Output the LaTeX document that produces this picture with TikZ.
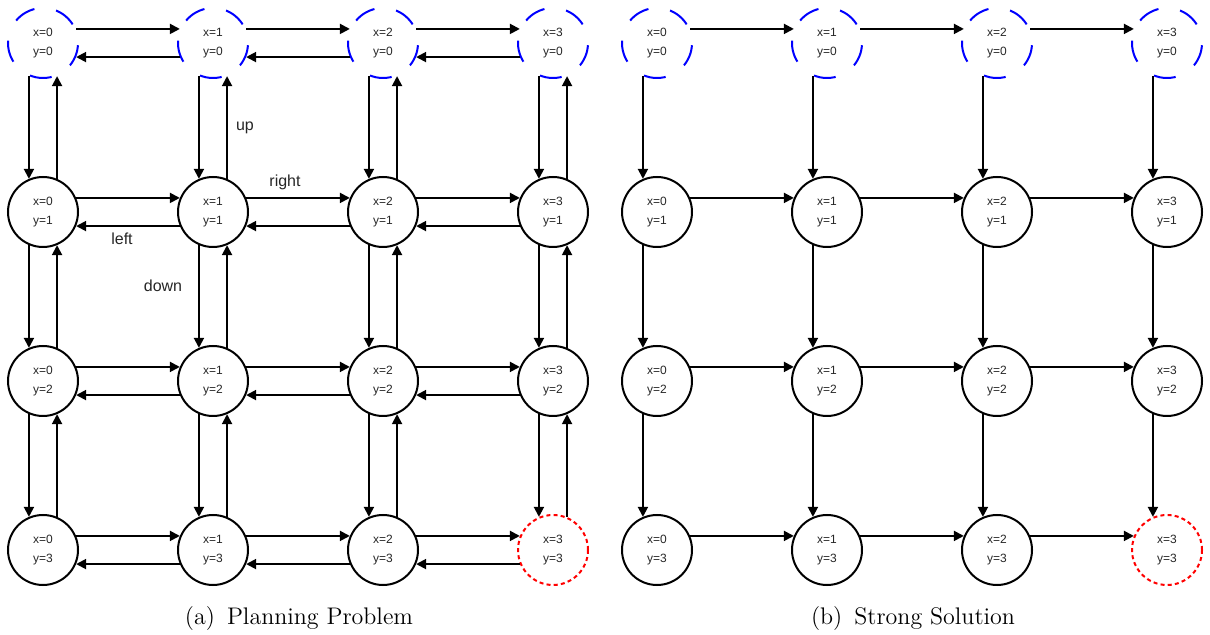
\documentclass[tikz,border=0pt]{standalone}
\usepackage{fontspec}
\newfontfamily\labelfont{Liberation Sans}
\usetikzlibrary{arrows.meta}

\tikzset{
  state/.style={circle, draw=black, line width=1pt, minimum size=35pt, inner sep=0pt,
    align=center, text=black!85, font=\labelfont\fontsize{6}{9.5}\selectfont},
  initstate/.style={state, draw=blue, dash pattern=on 11pt off 11pt, dash phase=12.2pt},
  goalstate/.style={state, draw=red, dash pattern=on 2pt off 1.6pt},
  move/.style={-{Triangle[length=5pt,width=5pt]}, line width=1pt, draw=black},
  actlabel/.style={font=\labelfont\fontsize{8}{9}\selectfont, text=black!85},
  caption/.style={font=\fontsize{12}{14}\selectfont}
}

\begin{document}
\begin{tikzpicture}[x=0.5pt, y=-0.5pt]
  \path[use as bounding box] (0,0) rectangle (1210,635);

  % grid of states for both panels: column i, row j
  \foreach \side/\xo in {L/43, R/657} {
    \foreach \i in {0,...,3} {
      \foreach \j in {0,...,3} {
        \pgfmathsetmacro{\px}{\xo+170*\i}
        \pgfmathsetmacro{\py}{43+169*\j}
        \ifnum\j=0
          \node[initstate] (\side-\i-\j) at (\px,\py) {x=\i\\y=\j};
        \else
          \ifnum\i=3 \ifnum\j=3
            \node[goalstate] (\side-\i-\j) at (\px,\py) {x=\i\\y=\j};
          \else
            \node[state] (\side-\i-\j) at (\px,\py) {x=\i\\y=\j};
          \fi
          \else
            \node[state] (\side-\i-\j) at (\px,\py) {x=\i\\y=\j};
          \fi
        \fi
      }
    }
  }

  % planning problem: moves in all four directions
  \foreach \i [evaluate=\i as \n using int(\i+1)] in {0,1,2} {
    \foreach \j in {0,...,3} {
      \draw[move] (L-\i-\j.23) -- (L-\n-\j.157);
      \draw[move] (L-\n-\j.-157) -- (L-\i-\j.-23);
      \draw[move] (L-\j-\i.-113) -- (L-\j-\n.113);
      \draw[move] (L-\j-\n.67) -- (L-\j-\i.-67);
    }
  }

  % strong solution: only right and down moves
  \foreach \i [evaluate=\i as \n using int(\i+1)] in {0,1,2} {
    \foreach \j in {0,...,3} {
      \draw[move] (R-\i-\j.23) -- (R-\n-\j.157);
      \draw[move] (R-\j-\i.-113) -- (R-\j-\n.113);
    }
  }

  % action labels
  \node[actlabel] (lup) at (245,128) {up};
  \node[actlabel] (lright) at (285,182) {right};
  \node[actlabel] (lleft) at (122,239) {left};
  \node[actlabel] (ldown) at (163,286) {down};

  % captions
  \node[caption] (capa) at (299,619) {(a)\enspace Planning Problem};
  \node[caption] (capb) at (913,619) {(b)\enspace Strong Solution};
\end{tikzpicture}
\end{document}
